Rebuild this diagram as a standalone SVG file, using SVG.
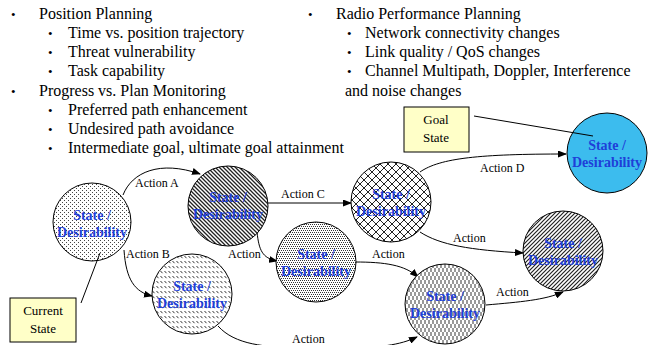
<svg xmlns="http://www.w3.org/2000/svg" width="650" height="345" viewBox="0 0 650 345">
<style>
text{font-family:"Liberation Serif","Times New Roman",serif;}
.b1{font-size:16px;fill:#000;}
.bu{font-size:13px;fill:#000;}
.lbl{font-size:12px;fill:#000;}
.st{font-size:14px;font-weight:bold;fill:#1f3fd8;text-anchor:middle;}
.box{fill:#ffffc8;stroke:#000;stroke-width:1;}
.bx{font-size:13px;fill:#000;text-anchor:middle;}
.node{stroke:#000;stroke-width:1;}
.conn{fill:none;stroke:#000;stroke-width:1;}
.lead{fill:none;stroke:#000;stroke-width:1;}
</style>
<defs>
<marker id="ah" markerWidth="9" markerHeight="7" refX="8" refY="3.5" orient="auto" markerUnits="userSpaceOnUse">
<path d="M0,0 L9,3.5 L0,7 z" fill="#000"/>
</marker>
<pattern id="pDots" width="4" height="4" patternUnits="userSpaceOnUse">
<rect width="4" height="4" fill="#fff"/>
<rect x="0" y="0" width="1" height="1" fill="#444"/>
<rect x="2" y="2" width="1" height="1" fill="#444"/>
</pattern>
<pattern id="pBack" width="4" height="4" patternUnits="userSpaceOnUse">
<rect width="4" height="4" fill="#fff"/>
<path d="M-1,-1 L5,5 M-1,3 L1,5 M3,-1 L5,1" stroke="#222" stroke-width="1.3"/>
</pattern>
<pattern id="pZig" width="4" height="5" patternUnits="userSpaceOnUse">
<rect width="4" height="5" fill="#fff"/>
<path d="M0.5,1 L2.5,3.2" stroke="#333" stroke-width="1"/>
</pattern>
<pattern id="pFine" width="4" height="4" patternUnits="userSpaceOnUse">
<rect width="4" height="4" fill="#fff"/>
<rect x="0" y="0" width="1" height="1" fill="#333"/>
<rect x="2" y="0" width="1" height="1" fill="#333"/>
<rect x="1" y="2" width="1" height="1" fill="#333"/>
<rect x="3" y="2" width="1" height="1" fill="#333"/>
</pattern>
<pattern id="pCross" width="8" height="8" patternUnits="userSpaceOnUse">
<rect width="8" height="8" fill="#fff"/>
<path d="M0,0 L8,8 M8,0 L0,8" stroke="#222" stroke-width="1"/>
</pattern>
<pattern id="pFwd" width="4" height="4" patternUnits="userSpaceOnUse">
<rect width="4" height="4" fill="#fff"/>
<path d="M-1,5 L5,-1 M-1,1 L1,-1 M3,5 L5,3" stroke="#222" stroke-width="1.2"/>
</pattern>
<pattern id="pVert" width="4" height="8" patternUnits="userSpaceOnUse">
<rect width="4" height="8" fill="#fff"/>
<path d="M1,0 L1,4 M3,4 L3,8" stroke="#333" stroke-width="1"/>
</pattern>
</defs>

<g id="text-left">
<text class="bu" x="11" y="19">•</text><text class="b1" x="39" y="19">Position Planning</text>
<text class="bu" x="48" y="38">•</text><text class="b1" x="68" y="38">Time vs. position trajectory</text>
<text class="bu" x="48" y="57">•</text><text class="b1" x="68" y="57">Threat vulnerability</text>
<text class="bu" x="48" y="76">•</text><text class="b1" x="68" y="76">Task capability</text>
<text class="bu" x="11" y="96">•</text><text class="b1" x="39" y="96">Progress vs. Plan Monitoring</text>
<text class="bu" x="48" y="115">•</text><text class="b1" x="68" y="115">Preferred path enhancement</text>
<text class="bu" x="48" y="134">•</text><text class="b1" x="68" y="134">Undesired path avoidance</text>
<text class="bu" x="48" y="153">•</text><text class="b1" x="68" y="153">Intermediate goal, ultimate goal attainment</text>
</g>
<g id="text-right">
<text class="bu" x="308" y="19">•</text><text class="b1" x="336" y="19">Radio Performance Planning</text>
<text class="bu" x="347" y="38">•</text><text class="b1" x="365" y="38">Network connectivity changes</text>
<text class="bu" x="347" y="57">•</text><text class="b1" x="365" y="57">Link quality / QoS changes</text>
<text class="bu" x="347" y="76">•</text><text class="b1" x="365" y="76">Channel Multipath, Doppler, Interference</text>
<text class="b1" x="345" y="96">and noise changes</text>
</g>

<g id="connectors">
<path class="conn" d="M123,195 C132,172 160,160 200,174" marker-end="url(#ah)"/>
<path class="conn" d="M124,250 C126,280 135,292 152,296" marker-end="url(#ah)"/>
<path class="conn" d="M268,203 L351,203" marker-end="url(#ah)"/>
<path class="conn" d="M257,232 C259,250 262,258 277,261" marker-end="url(#ah)"/>
<path class="conn" d="M420,172 C440,158 480,154 566,154" marker-end="url(#ah)"/>
<path class="conn" d="M420,232 C440,245 470,250 523,253" marker-end="url(#ah)"/>
<path class="conn" d="M355,262 C385,262 405,265 418,277" marker-end="url(#ah)"/>
<path class="conn" d="M486,305 C520,302 545,300 563,292" marker-end="url(#ah)"/>
<path class="conn" d="M218,326 C235,345 265,347 300,348 L340,348 C380,348 400,345 417,337" marker-end="url(#ah)"/>
<text class="lbl" x="135" y="187">Action A</text>
<text class="lbl" x="126" y="258">Action B</text>
<text class="lbl" x="281" y="198">Action C</text>
<text class="lbl" x="228" y="258">Action</text>
<text class="lbl" x="480" y="172">Action D</text>
<text class="lbl" x="453" y="242">Action</text>
<text class="lbl" x="372" y="258">Action</text>
<text class="lbl" x="496" y="296">Action</text>
<text class="lbl" x="292" y="343">Action</text>
</g>

<g id="node-current">
<circle class="node" cx="92" cy="222" r="39" fill="url(#pDots)"/>
<text class="st" x="92" y="220">State /</text>
<text class="st" x="92" y="237">Desirability</text>
</g>
<g id="node-a">
<circle class="node" cx="228" cy="206" r="40" fill="url(#pBack)"/>
<text class="st" x="228" y="202">State /</text>
<text class="st" x="228" y="219">Desirability</text>
</g>
<g id="node-b">
<circle class="node" cx="192" cy="294" r="40" fill="url(#pZig)"/>
<text class="st" x="192" y="291">State /</text>
<text class="st" x="192" y="308">Desirability</text>
</g>
<g id="node-mid">
<circle class="node" cx="316" cy="262" r="40" fill="url(#pFine)"/>
<text class="st" x="316" y="259">State /</text>
<text class="st" x="316" y="276">Desirability</text>
</g>
<g id="node-c">
<circle class="node" cx="391" cy="202" r="40" fill="url(#pCross)"/>
<text class="st" x="391" y="199">State /</text>
<text class="st" x="391" y="216">Desirability</text>
</g>
<g id="node-goal">
<circle class="node" cx="607" cy="153" r="40" fill="#3cbcee"/>
<text class="st" x="607" y="150">State /</text>
<text class="st" x="607" y="167">Desirability</text>
</g>
<g id="node-right">
<circle class="node" cx="563" cy="251" r="40" fill="url(#pFwd)"/>
<text class="st" x="563" y="248">State /</text>
<text class="st" x="563" y="265">Desirability</text>
</g>
<g id="node-bottom">
<circle class="node" cx="445" cy="304" r="40" fill="url(#pVert)"/>
<text class="st" x="445" y="301">State /</text>
<text class="st" x="445" y="318">Desirability</text>
</g>

<g id="box-current">
<path class="lead" d="M81,303 L100,253"/>
<rect class="box" x="10" y="298" width="66" height="44"/>
<text class="bx" x="43" y="315">Current</text>
<text class="bx" x="43" y="333">State</text>
</g>
<g id="box-goal">
<path class="lead" d="M474,116 L593,136"/>
<rect class="box" x="404" y="107" width="65" height="45"/>
<text class="bx" x="436" y="124">Goal</text>
<text class="bx" x="436" y="142">State</text>
</g>
</svg>
